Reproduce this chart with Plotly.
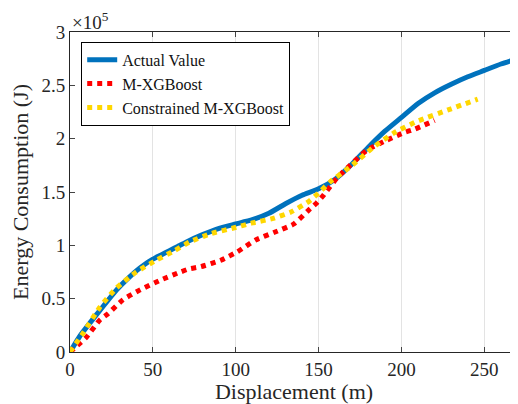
import plotly.graph_objects as go

# Displacement (m) and energy (x1e5 J)
actual_x = [0, 6, 16, 28, 35, 40, 45, 50, 55, 60, 65, 70, 80, 90, 100, 110, 120, 130, 140, 150, 160, 170, 180, 190, 200, 210, 220, 230, 240, 250, 260, 272]
actual_y = [0, 0.15, 0.35, 0.58, 0.69, 0.76, 0.82, 0.87, 0.91, 0.95, 0.99, 1.03, 1.10, 1.16, 1.20, 1.24, 1.30, 1.39, 1.47, 1.53, 1.62, 1.76, 1.92, 2.07, 2.20, 2.33, 2.43, 2.51, 2.58, 2.64, 2.70, 2.76]

mxgb_x = [0, 3, 10, 18, 23, 32, 42, 54, 65, 72, 79, 91, 101, 112, 123, 135, 144, 149, 153, 161, 169, 179, 191, 202, 208, 220]
mxgb_y = [0, 0.04, 0.14, 0.30, 0.36, 0.49, 0.58, 0.67, 0.74, 0.78, 0.80, 0.86, 0.94, 1.05, 1.12, 1.20, 1.33, 1.40, 1.47, 1.63, 1.75, 1.89, 1.985, 2.06, 2.09, 2.17]

cmxgb_x = [0, 8, 18, 28, 40, 52, 63, 72, 85, 98, 110, 122, 133, 144, 150, 157, 169, 183, 195, 209, 230, 246]
cmxgb_y = [0, 0.18, 0.42, 0.60, 0.75, 0.86, 0.95, 1.03, 1.11, 1.16, 1.21, 1.25, 1.31, 1.41, 1.49, 1.595, 1.735, 1.92, 2.05, 2.16, 2.28, 2.37]

x_ticks = [0, 50, 100, 150, 200, 250]
y_ticks = [0, 0.5, 1, 1.5, 2, 2.5, 3]
y_tick_labels = ["0", "0.5", "1", "1.5", "2", "2.5", "3"]

FONT = "Liberation Serif, Times New Roman, serif"

fig = go.Figure()
fig.add_trace(go.Scatter(x=actual_x, y=actual_y, mode="lines", name="Actual Value",
                         line=dict(color="#0072BD", width=5, shape="spline", smoothing=0.5)))
fig.add_trace(go.Scatter(x=mxgb_x, y=mxgb_y, mode="lines", name="M-XGBoost",
                         line=dict(color="#FF0000", width=5, dash="dot", shape="spline", smoothing=0.5)))
fig.add_trace(go.Scatter(x=cmxgb_x, y=cmxgb_y, mode="lines", name="Constrained M-XGBoost",
                         line=dict(color="#FFD700", width=5, dash="dot", shape="spline", smoothing=0.5)))

axis_col = "#262626"
# the page body has an 8px margin, so the figure is 8px smaller than the window
fig.update_layout(
    width=510, height=396,
    margin=dict(l=62, r=0, t=24, b=52),
    paper_bgcolor="white", plot_bgcolor="white",
    font=dict(family=FONT, color=axis_col, size=19),
    showlegend=True,
    legend=dict(x=0.025, y=0.969, xanchor="left", yanchor="top",
                bgcolor="white", bordercolor="black", borderwidth=1,
                font=dict(family=FONT, size=16, color="#111"),
                tracegroupgap=0),
    xaxis=dict(range=[0, 270.3], tickvals=x_ticks, ticks="inside", ticklen=5,
               showline=True, linecolor=axis_col, linewidth=1, mirror="ticks",
               showgrid=True, gridcolor="#e3e3e3", gridwidth=1, zeroline=False,
               tickfont=dict(size=19),
               title=dict(text="Displacement (m)", font=dict(size=22), standoff=0)),
    yaxis=dict(range=[0, 3], tickvals=y_ticks, ticktext=y_tick_labels, ticks="inside", ticklen=5,
               showline=True, linecolor=axis_col, linewidth=1,
               showgrid=False, zeroline=False, tickfont=dict(size=19),
               title=dict(text="Energy Consumption (J)", font=dict(size=22), standoff=6)),
    annotations=[dict(text="×10<sup>5</sup>", xref="paper", yref="paper", x=0.0, y=1.0,
                      xanchor="left", yanchor="bottom", showarrow=False,
                      font=dict(family=FONT, size=19, color=axis_col), yshift=-3)],
)

fig.write_html("out.html")
